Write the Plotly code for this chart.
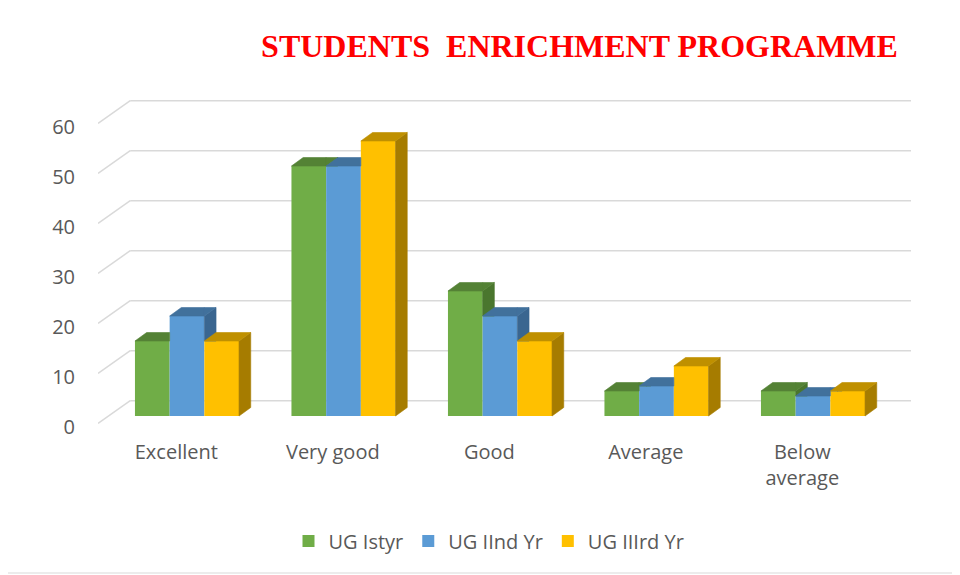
import plotly.graph_objects as go

# ---------------- data ----------------
categories = ["Excellent", "Very good", "Good", "Average", "Below<br>average"]
series_names = ["UG Istyr", "UG IInd Yr", "UG IIIrd Yr"]
ug_1st = [15, 50, 25, 5, 5]
ug_2nd = [20, 50, 20, 6, 4]
ug_3rd = [15, 55, 15, 10, 5]
y_ticks = [0, 10, 20, 30, 40, 50, 60]
title_text = "STUDENTS\u00a0\u00a0ENRICHMENT PROGRAMME"

# ---------------- styles / geometry ----------------
front_colors = ["#70AD47", "#5B9BD5", "#FFC000"]
top_colors = ["#548235", "#41719C", "#BF9000"]
side_colors = ["#4A762E", "#3A6690", "#A67C00"]
grid_color = "#D9D9D9"
text_color = "#595959"
font_main = "'Open Sans', Lato, sans-serif"

OFF = 8  # page body margin
W, H = 960 - OFF, 575 - OFF
plot_left, plot_right, plot_top, plot_bottom = 98 - OFF, 911 - OFF, 90 - OFF, 428 - OFF
ML, MR, MT, MB = plot_left, W - plot_right, plot_top, H - plot_bottom
plot_w = plot_right - plot_left
plot_h = plot_bottom - plot_top
px_per_slot = 156.5
px_per_unit = 5.0
first_center_px = 187.0 - OFF
zero_px = 416.0 - OFF

x_min = -(first_center_px - plot_left) / px_per_slot
x_range = [x_min, x_min + plot_w / px_per_slot]
y_min = -(plot_bottom - zero_px) / px_per_unit
y_range = [y_min, y_min + plot_h / px_per_unit]

bar_w = 0.2217
bargap = 1 - 3 * bar_w
# 3-D offsets (slot units, value units) relative to the bar front plane
dx, dy = 11.7 / px_per_slot, 8.5 / px_per_unit        # bar depth
fx, fy = -10.7 / px_per_slot, -7.3 / px_per_unit      # front edge of floor
bx, by = 21.5 / px_per_slot, 15.3 / px_per_unit       # back wall

series = [ug_1st, ug_2nd, ug_3rd]
xpos = list(range(len(categories)))


def clip(poly, inside, inter):
    out = []
    n = len(poly)
    for k in range(n):
        cur, prev = poly[k], poly[k - 1]
        if inside(cur):
            if not inside(prev):
                out.append(inter(prev, cur))
            out.append(cur)
        elif inside(prev):
            out.append(inter(prev, cur))
    return out


def ge_y(c):
    return (lambda p: p[1] >= c,
            lambda a, b: (a[0] + (b[0] - a[0]) * (c - a[1]) / (b[1] - a[1]), c))


def le_x(c):
    return (lambda p: p[0] <= c,
            lambda a, b: (c, a[1] + (b[1] - a[1]) * (c - a[0]) / (b[0] - a[0])))


def ge_x(c):
    return (lambda p: p[0] >= c,
            lambda a, b: (c, a[1] + (b[1] - a[1]) * (c - a[0]) / (b[0] - a[0])))


fig = go.Figure()

# front faces: real bars
for s, vals in enumerate(series):
    fig.add_trace(go.Bar(
        x=xpos, y=vals, name=series_names[s],
        marker=dict(color=front_colors[s], line=dict(width=0)),
        hoverinfo="skip",
    ))


def add_poly_trace(polys, color):
    xs, ys = [], []
    for p in polys:
        if len(p) < 3:
            continue
        xs += [q[0] for q in p] + [p[0][0], None]
        ys += [q[1] for q in p] + [p[0][1], None]
    fig.add_trace(go.Scatter(
        x=xs, y=ys, mode="lines", fill="toself", fillcolor=color,
        line=dict(width=0.6, color=color), showlegend=False, hoverinfo="skip",
    ))


# top & side faces, clipped where the next bar's front face hides them
for s, vals in enumerate(series):
    sides, tops = [], []
    for i, v in enumerate(vals):
        xl = i - 3 * bar_w / 2 + s * bar_w
        xr = xl + bar_w
        side = [(xr, 0), (xr, v), (xr + dx, v + dy), (xr + dx, dy)]
        top = [(xl, v), (xl + dx, v + dy), (xr + dx, v + dy), (xr, v)]
        if s < len(series) - 1:
            vn = series[s + 1][i]
            side = clip(side, *ge_y(vn))
            top_a = clip(top, *le_x(xr))
            top_b = clip(clip(top, *ge_x(xr)), *ge_y(vn))
            tops += [top_a, top_b]
        else:
            tops.append(top)
        sides.append(side)
    add_poly_trace(sides, side_colors[s])
    add_poly_trace(tops, top_colors[s])

# left wall diagonals (front-plane value axis y2)
dxs, dys = [], []
for v in y_ticks:
    dxs += [-0.5 + fx, -0.5 + bx, None]
    dys += [v, v + by - fy, None]
fig.add_trace(go.Scatter(
    x=dxs, y=dys, yaxis="y2", mode="lines",
    line=dict(color=grid_color, width=1.5), showlegend=False, hoverinfo="skip",
))

# back wall gridlines (below the bars)
shapes = []
for v in y_ticks:
    shapes.append(dict(type="line", xref="x", yref="y",
                       x0=-0.5 + bx, x1=len(categories) - 0.5 + bx,
                       y0=v + by, y1=v + by, layer="below",
                       line=dict(color=grid_color, width=1.5)))
# chart border (right and bottom edges visible inside the page)
bx_r = (957 - OFF - plot_left) / plot_w
by_b = (plot_bottom - (573 - OFF)) / plot_h
shapes.append(dict(type="line", xref="paper", yref="paper",
                   x0=bx_r, x1=bx_r, y0=by_b, y1=(plot_bottom + OFF) / plot_h,
                   line=dict(color="#D9D9D9", width=1), layer="below"))
shapes.append(dict(type="line", xref="paper", yref="paper",
                   x0=-plot_left / plot_w, x1=bx_r, y0=by_b, y1=by_b,
                   line=dict(color="#D9D9D9", width=1), layer="below"))

fig.update_layout(
    width=W, height=H,
    margin=dict(l=ML, r=MR, t=MT, b=MB, autoexpand=False),
    paper_bgcolor="white", plot_bgcolor="white",
    barmode="group", bargap=bargap, bargroupgap=0,
    shapes=shapes,
    title=dict(text=f"<b>{title_text}</b>", xref="paper",
               x=(579.5 - OFF - plot_left) / plot_w,
               xanchor="center", yref="container", y=1 - (46 - OFF) / H,
               yanchor="middle",
               font=dict(family="'Liberation Serif', 'Times New Roman', serif",
                         size=32, color="#FF0000")),
    xaxis=dict(range=x_range, tickvals=[i + fx for i in xpos], ticktext=categories,
               showgrid=False, zeroline=False, showline=False, ticks="",
               ticklabelstandoff=10,
               tickfont=dict(family=font_main, size=20, color=text_color)),
    yaxis=dict(range=y_range, showgrid=False, zeroline=False, showline=False,
               showticklabels=False),
    yaxis2=dict(range=[y_range[0] - fy, y_range[1] - fy], overlaying="y", side="left",
                tickvals=y_ticks, showgrid=False, zeroline=False, showline=False,
                ticks="", ticklabelstandoff=22, ticklabelshift=4,
                tickfont=dict(family=font_main, size=20, color=text_color)),
    legend=dict(orientation="h", x=(489 - OFF - plot_left) / plot_w, xanchor="center",
                y=(plot_bottom - (541 - OFF)) / plot_h, yanchor="middle",
                font=dict(family=font_main, size=20, color=text_color),
                bgcolor="rgba(0,0,0,0)"),
    showlegend=True,
)

fig.write_html("out.html")
